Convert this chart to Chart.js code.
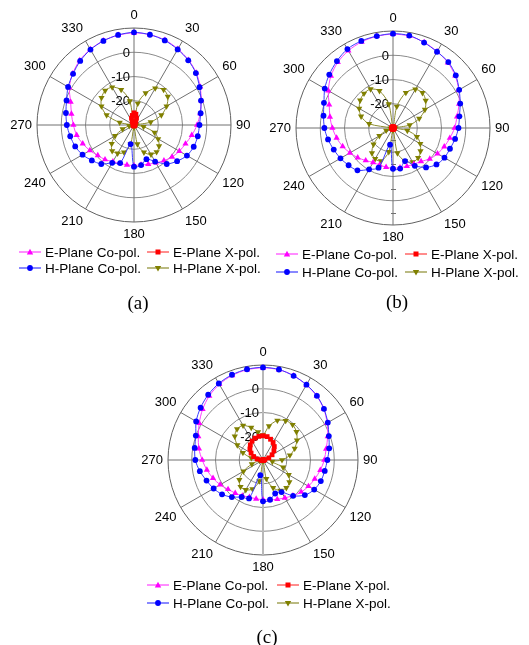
<!DOCTYPE html>
<html>
<head>
<meta charset="utf-8">
<script src="https://cdn.jsdelivr.net/npm/chart.js@4.4.0/dist/chart.umd.min.js"></script>
<style>
  html, body { margin: 0; padding: 0; background: #fff; }
  body { width: 529px; height: 645px; position: relative; overflow: hidden;
         font-family: "Liberation Sans", Arial, sans-serif; }
  canvas { position: absolute; left: 0; top: 0; }
  .leg { position: absolute; height: 16px; display: flex; align-items: center;
         font-size: 13.5px; color: #000; white-space: nowrap; transform: translateY(-50%); }
  .leg svg { margin-right: 4px; flex: none; }
  .cap { position: absolute; font-family: "Liberation Serif", "Times New Roman", serif;
         font-size: 19px; color: #000; transform: translate(-50%, -50%); }
</style>
</head>
<body>
<canvas id="plotA" width="300" height="300"></canvas>
<canvas id="plotB" width="300" height="300"></canvas>
<canvas id="plotC" width="300" height="300"></canvas>
<script>
// Angular positions (degrees, clockwise from the top) and labelled ring levels (dB)
const angles = [0, 10, 20, 30, 40, 50, 60, 70, 80, 90, 100, 110, 120, 130, 140, 150, 160, 170,
                180, 190, 200, 210, 220, 230, 240, 250, 260, 270, 280, 290, 300, 310, 320, 330, 340, 350];
const ringTicks = [0, -10, -20];
const minorTicks = [-25, -15, -5, 5];
const seriesNames = ['E-Plane Co-pol.', 'E-Plane X-pol.', 'H-Plane Co-pol.', 'H-Plane X-pol.'];

// (a) normalized radiation pattern, dB
const eCoA = [8.0, 7.8, 7.3, 6.2, 5.0, 3.5, 1.5, -0.5, -2.3, -4.0, -5.8, -7.4, -8.4, -9.5, -10.8, -12.0, -12.8, -13.3,
              -13.3, -13.3, -13.2, -12.6, -11.4, -10.5, -9.0, -7.5, -6.0, -5.0, -3.8, -2.2, 0.8, 3.0, 4.8, 6.0, 7.0, 7.6];
const eXA  = [-25.0, -25.5, -27.0, -28.5, -29.5, -29.7, -29.7, -29.7, -29.7, -29.7, -29.7, -29.7, -29.7, -29.7, -29.7, -29.7, -29.7, -29.7,
              -29.7, -29.7, -29.7, -29.7, -29.7, -29.7, -29.7, -29.7, -29.7, -29.7, -29.7, -29.7, -29.7, -29.7, -29.5, -28.5, -27.0, -26.0];
const hCoA = [8.2, 7.8, 7.1, 6.0, 4.8, 3.3, 1.2, -0.6, -2.1, -3.0, -3.3, -3.8, -4.8, -6.8, -9.0, -12.6, -15.0, -13.2,
              -12.8, -22.0, -13.3, -12.0, -9.0, -7.3, -5.5, -4.2, -3.3, -2.3, -1.5, -0.4, 1.4, 2.8, 4.5, 5.9, 6.9, 7.7];
const hXA  = [-29.5, -21, -16, -12.5, -11, -11.8, -14.5, -18, -23, -29, -26, -21, -18.5, -16.5, -15.5, -16, -18, -22,
              -29, -22, -18, -16.5, -16, -18, -21, -25, -28, -29.5, -24, -18, -14.5, -12.5, -11.5, -12, -14.5, -20];

// (b)
const eCoB = [8.7, 8.5, 7.6, 6.4, 5.2, 3.5, 1.3, -1.0, -3.2, -4.6, -6.2, -7.5, -8.8, -10.2, -12.0, -12.8, -13.2, -13.4,
              -13.4, -13.6, -13.8, -13.6, -12.5, -11.0, -9.5, -7.9, -6.4, -5.0, -3.6, -2.0, 0.8, 3.4, 5.4, 6.8, 7.8, 8.4];
const eXB  = [-29.6, -29.6, -29.6, -29.6, -29.6, -29.6, -29.6, -29.6, -29.6, -29.6, -29.6, -29.6, -29.6, -29.6, -29.6, -29.6, -29.6, -29.6,
              -29.6, -29.6, -29.6, -29.6, -29.6, -29.6, -29.6, -29.6, -29.6, -29.6, -29.6, -29.6, -29.6, -29.6, -29.6, -29.6, -29.6, -29.6];
const hCoB = [8.9, 8.7, 7.5, 6.3, 5.5, 3.8, 1.5, -0.5, -2.2, -3.0, -4.0, -5.0, -5.5, -6.6, -8.8, -12.0, -15.5, -13.0,
              -13.2, -23.0, -12.6, -10.3, -7.2, -6.1, -5.0, -4.0, -2.8, -1.7, -0.9, 0.3, 2.5, 4.3, 6.0, 7.6, 8.2, 8.5];
const hXB  = [-29.5, -21, -14.5, -11.6, -11.1, -12.4, -14.8, -18.5, -23, -29, -24, -19.5, -17, -15.2, -13.9, -13.8, -15.5, -19.5,
              -29, -20, -15.5, -15.3, -16.5, -19.5, -23.5, -27, -29, -29.5, -20, -16, -13.9, -12.3, -11.4, -11.5, -13.7, -20];

// (c)
const eCoC = [8.8, 8.6, 7.8, 6.5, 5.2, 3.4, 1.2, -1.0, -3.0, -4.2, -5.5, -6.8, -7.9, -9.0, -10.4, -11.6, -12.4, -13.0,
              -13.3, -13.4, -13.4, -12.6, -11.8, -10.8, -9.2, -7.6, -6.0, -4.4, -2.6, -1.0, 1.0, 3.2, 5.2, 6.8, 7.9, 8.6];
const eXC  = [-19.8, -20.0, -20.7, -21.5, -22.6, -24.0, -25.6, -27.4, -29.2, -29.8, -29.8, -29.8, -29.8, -29.8, -29.8, -29.8, -29.8, -29.8,
              -29.8, -29.8, -29.8, -29.8, -29.8, -29.8, -29.8, -29.8, -29.8, -29.2, -27.5, -25.8, -24.2, -22.8, -21.7, -20.8, -20.2, -19.9];
const hCoC = [9.0, 8.7, 7.7, 6.6, 5.3, 3.5, 1.5, -0.5, -1.7, -2.9, -3.6, -4.1, -5.1, -7.0, -10.3, -14.4, -15.0, -13.0,
              -12.6, -23.5, -12.8, -12.0, -9.6, -7.5, -6.0, -4.7, -3.0, -1.5, -0.8, 0.1, 2.5, 4.3, 5.9, 7.2, 8.2, 8.8];
const hXC  = [-19.5, -15.5, -12.3, -10.9, -10.6, -11.6, -13.5, -15.8, -18.5, -22, -26, -21, -17.5, -15.5, -14.7, -15.2, -17.5, -22,
              -29.5, -21, -17, -15.5, -15.3, -17, -20.5, -25, -28.5, -29.5, -25, -21, -17.5, -14.5, -13, -13.2, -15.5, -18];

// Series appearance: colour, marker, marker size, drawing order
const styles = [
  { color: '#ff00ff', line: '#ff40ff', point: 'triangle', rot: 0,   r: 3.6, order: 2 },
  { color: '#ff0000', line: '#ff4040', point: 'rect',     rot: 0,   r: 3.4, order: 0 },
  { color: '#0000ff', line: '#3a3aff', point: 'circle',   rot: 0,   r: 2.9, order: 1 },
  { color: '#808000', line: '#8c8c30', point: 'triangle', rot: 180, r: 3.6, order: 3 }
];

// Labels on the 0° spoke for the inner rings, plus optional minor ticks on the 180° spoke
const ringLabelPlugin = {
  id: 'ringLabels',
  beforeDatasetsDraw(chart, args, opts) {
    const s = chart.scales.r;
    const ctx = chart.ctx;
    ctx.save();
    if (opts.minor) {
      ctx.strokeStyle = '#707070';
      ctx.lineWidth = 1;
      minorTicks.forEach(v => {
        const d = s.getDistanceFromCenterForValue(v);
        const y = Math.round(s.yCenter + d) + 0.5;
        ctx.beginPath();
        ctx.moveTo(s.xCenter - 2, y);
        ctx.lineTo(s.xCenter + 3, y);
        ctx.stroke();
      });
    }
    ctx.font = '13px "Liberation Sans", Arial, sans-serif';
    ctx.fillStyle = '#000';
    ctx.textAlign = 'right';
    ctx.textBaseline = 'middle';
    ringTicks.forEach(v => {
      const d = s.getDistanceFromCenterForValue(v);
      ctx.fillText(String(v), s.xCenter - 4, s.yCenter - d + 1);
    });
    ctx.restore();
  }
};

function makePolar(canvasId, series, frame) {
  const canvas = document.getElementById(canvasId);
  const datasets = series.map((values, i) => {
    const st = styles[i];
    return {
      label: seriesNames[i],
      data: values,
      borderColor: st.line,
      backgroundColor: st.color,
      borderWidth: 1,
      fill: false,
      tension: 0.3,
      pointStyle: st.point,
      pointRotation: st.rot,
      pointRadius: st.r,
      pointBackgroundColor: st.color,
      pointBorderColor: st.color,
      pointBorderWidth: 0,
      order: st.order
    };
  });
  const chart = new Chart(canvas, {
    type: 'radar',
    data: { labels: angles, datasets },
    plugins: [ringLabelPlugin],
    options: {
      responsive: false,
      animation: false,
      layout: { padding: 0 },
      plugins: {
        legend: { display: false },
        tooltip: { enabled: false },
        ringLabels: { minor: !!frame.minor }
      },
      elements: { line: { borderWidth: 1 } },
      scales: {
        r: {
          min: -30,
          max: 10,
          ticks: { stepSize: 10, display: false },
          grid: {
            circular: true,
            color: (c) => (c.index === 4 ? '#606060' : '#8a8a8a'),
            lineWidth: 1
          },
          angleLines: {
            display: true,
            color: (c) => (frame.lightAxis && c.index % 18 === 0 ? '#b8b8b8' : '#707070'),
            lineWidth: (c) => (c.index % 3 !== 0 ? 0 : (frame.lightAxis && c.index % 18 === 0 ? 2 : 1))
          },
          pointLabels: {
            display: true,
            padding: 5,
            color: '#000',
            font: { family: '"Liberation Sans", Arial, sans-serif', size: 13 },
            callback: (label, i) => (i % 3 === 0 ? String(label) : '')
          }
        }
      }
    }
  });
  // size the polar area and place its centre
  let s = chart.scales.r;
  let pad = s.drawingArea - frame.radius;
  chart.options.layout.padding = pad;
  chart.update();
  s = chart.scales.r;
  pad += s.drawingArea - frame.radius;
  chart.options.layout.padding = pad;
  chart.update();
  s = chart.scales.r;
  canvas.style.left = (frame.cx - s.xCenter) + 'px';
  canvas.style.top = (frame.cy - s.yCenter) + 'px';
  return chart;
}

makePolar('plotA', [eCoA, eXA, hCoA, hXA], { cx: 134, cy: 125, radius: 97 });
makePolar('plotB', [eCoB, eXB, hCoB, hXB], { cx: 393, cy: 128, radius: 97, minor: true });
makePolar('plotC', [eCoC, eXC, hCoC, hXC], { cx: 263, cy: 460, radius: 95, lightAxis: true });

// Two-by-two legend under each plot
function markerSvg(st) {
  const c = st.color;
  let m = '';
  if (st.point === 'circle') m = `<circle cx="11" cy="5" r="2.9" fill="${c}"/>`;
  else if (st.point === 'rect') m = `<rect x="8.5" y="2.5" width="5" height="5" fill="${c}"/>`;
  else if (st.rot === 180) m = `<polygon points="7.8,3 14.2,3 11,8.4" fill="${c}"/>`;
  else m = `<polygon points="7.8,7.4 14.2,7.4 11,1.8" fill="${c}"/>`;
  return `<svg width="22" height="10" viewBox="0 0 22 10"><line x1="0" y1="5" x2="22" y2="5" stroke="${st.line}" stroke-width="1.2"/>${m}</svg>`;
}
function makeLegend(cols, rows) {
  const order = [[0, 1], [2, 3]];
  order.forEach((pair, ri) => {
    pair.forEach((si, ci) => {
      const d = document.createElement('div');
      d.className = 'leg';
      d.style.left = cols[ci] + 'px';
      d.style.top = rows[ri] + 'px';
      d.innerHTML = markerSvg(styles[si]) + '<span>' + seriesNames[si] + '</span>';
      document.body.appendChild(d);
    });
  });
}
makeLegend([19, 147], [252, 268]);
makeLegend([276, 405], [254, 272]);
makeLegend([147, 277], [585, 603]);

function caption(text, x, y) {
  const d = document.createElement('div');
  d.className = 'cap';
  d.style.left = x + 'px';
  d.style.top = y + 'px';
  d.textContent = text;
  document.body.appendChild(d);
}
caption('(a)', 138, 303);
caption('(b)', 397, 302);
caption('(c)', 267, 637);
</script>
</body>
</html>
